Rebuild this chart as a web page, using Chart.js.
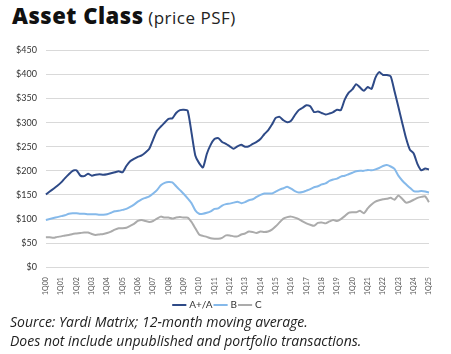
<!DOCTYPE html>
<html>
<head>
<meta charset="utf-8">
<script src="https://cdn.jsdelivr.net/npm/chart.js@4.4.0/dist/chart.umd.min.js"></script>
<style>
  html, body { margin: 0; padding: 0; background: #fff; }
  body { width: 451px; height: 354px; position: relative; overflow: hidden; font-family: Lato, sans-serif; color: #111; }
  #title { position: absolute; left: 12px; top: 0px; white-space: nowrap; font-family: 'Open Sans', sans-serif; font-size: 16px; letter-spacing: 0.5px; }
  #title b { font-size: 22px; font-weight: 800; }
  #title span { font-size: 17px; font-weight: 400; color: #222; }
  #wrap { position: absolute; left: 0; top: 36px; width: 451px; height: 284px; }
  .note { position: absolute; left: 10px; font-family: 'Open Sans', sans-serif; font-size: 14px; font-style: italic; color: #222; white-space: nowrap; }
</style>
</head>
<body>
<div id="title"><b>Asset Class</b> <span>(price PSF)</span></div>
<div id="wrap"><canvas id="chart"></canvas></div>
<div class="note" style="top:312px">Source: Yardi Matrix; 12-month moving average.</div>
<div class="note" style="top:331px">Does not include unpublished and portfolio transactions.</div>
<script>
var years = ['00','01','02','03','04','05','06','07','08','09','10','11','12','13','14','15','16','17','18','19','20','21','22','23','24','25'];
var quarters = [];
for (var y = 0; y < years.length; y++) {
  for (var q = 1; q <= 4; q++) {
    if (y == years.length - 1 && q > 1) break;
    quarters.push(q + 'Q' + years[y]);
  }
}

var classA = [151,157,163,169,176,185,193,200,201,190,189,194,190,192,193,192,193,195,197,199,
  197,210,220,225,229,232,238,246,265,283,292,300,308,309,320,326,327,325,280,232,
  216,207,235,254,266,268,260,256,251,246,251,254,250,251,256,260,266,276,284,296,
  310,312,305,301,304,316,326,331,336,334,322,323,320,317,319,322,327,326,348,362,
  369,380,373,366,374,370,393,405,399,399,396,365,333,300,268,244,236,214,201,205,203];
var classB = [98,100,102,104,106,108,111,112,112,111,111,110,110,110,109,109,110,113,116,117,
  119,121,125,130,136,141,144,147,153,160,170,175,177,176,168,160,152,143,133,118,
  111,111,113,116,121,122,128,131,132,134,136,133,135,139,141,146,150,153,153,153,
  157,161,164,167,163,158,155,156,159,162,166,168,172,174,179,182,184,188,190,193,
  196,199,200,200,202,201,203,206,210,212,209,204,190,180,172,165,158,157,158,157,155];
var classC = [62,62,61,63,64,66,67,69,70,71,72,72,69,67,68,69,71,74,78,81,
  81,82,86,90,96,98,96,94,96,101,105,103,103,101,103,104,103,103,94,81,
  68,65,63,60,59,59,61,66,66,64,64,68,70,74,73,71,74,73,74,78,
  85,93,101,104,105,103,100,95,91,88,86,92,93,91,95,98,96,100,106,113,
  114,114,117,112,122,130,136,139,141,142,144,140,149,142,134,136,140,144,146,147,135];

var navy = '#2e4a87';
var lightBlue = '#85b9ea';
var grey = '#ababab';

var ds = function(label, data, color) {
  return {
    label: label,
    data: data,
    borderColor: color,
    backgroundColor: color,
    borderWidth: 2,
    pointRadius: 0,
    tension: 0.2,
    fill: false
  };
};

new Chart(document.getElementById('chart'), {
  type: 'line',
  data: {
    labels: quarters,
    datasets: [ds('A+/A', classA, navy), ds('B', classB, lightBlue), ds('C', classC, grey)]
  },
  options: {
    responsive: true,
    maintainAspectRatio: false,
    animation: false,
    layout: { padding: { left: 7, right: 22, top: 6, bottom: 0 } },
    plugins: {
      legend: {
        position: 'bottom',
        labels: {
          usePointStyle: true,
          pointStyle: 'line',
          boxWidth: 16,
          padding: 3,
          color: '#333',
          font: { family: 'Lato', size: 10 }
        }
      },
      tooltip: { enabled: false }
    },
    scales: {
      x: {
        grid: { display: false },
        border: { display: false },
        ticks: {
          autoSkip: false,
          maxRotation: 90,
          minRotation: 90,
          padding: 2,
          color: '#555',
          font: { family: 'Lato', size: 7 },
          callback: function(val, i) { return i % 4 == 0 ? quarters[i] : ''; }
        }
      },
      y: {
        min: 0,
        max: 450,
        grid: { color: '#d9d9d9', drawTicks: false },
        border: { display: false },
        ticks: {
          stepSize: 50,
          padding: 9,
          color: '#333',
          font: { family: 'Lato', size: 9 },
          callback: function(v) { return '$' + v; }
        }
      }
    }
  }
});
</script>
</body>
</html>
